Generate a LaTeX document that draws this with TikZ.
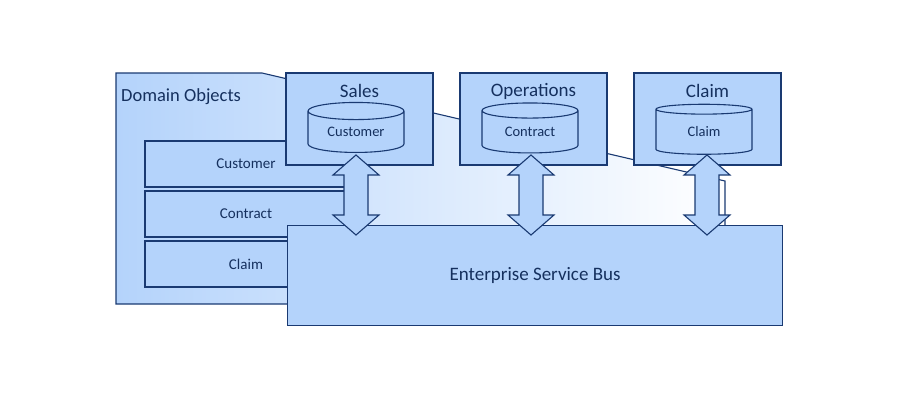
\documentclass[tikz,border=0pt]{standalone}
\usepackage{fontspec}
\setmainfont{Carlito}
\usetikzlibrary{shapes.geometric}
\definecolor{bfill}{HTML}{B4D3FB}
\definecolor{bline}{HTML}{1A3A72}
\definecolor{btext}{HTML}{15305E}
\tikzset{
  box/.style={draw=bline,fill=bfill,line width=1.1pt},
  lbl/.style={text=btext,inner sep=0pt},
  cyl/.style={cylinder,shape border rotate=90,aspect=0.3,draw=bline,fill=bfill,line width=1.1pt,minimum width=96pt,minimum height=50pt,text=btext,font=\fontsize{14.5}{14.5}\selectfont,inner sep=0pt},
}
\newcommand{\dblarr}[1]{%
  \draw[box,line join=miter] (#1,155) -- (#1+23,175) -- (#1+12,175) -- (#1+12,215) -- (#1+23,215) -- (#1,235) -- (#1-23,215) -- (#1-12,215) -- (#1-12,175) -- (#1-23,175) -- cycle;}
\begin{document}
\begin{tikzpicture}[x=1pt,y=-1pt]
\useasboundingbox (0,0) rectangle (900,400);
% domain objects shape
\draw[draw=bline,line width=1.1pt,left color=bfill,right color=white]
  (116,73) -- (262,73) -- (725,181) -- (725,304) -- (116,304) -- cycle;
\node[lbl,anchor=west,font=\fontsize{18.5}{18.5}\selectfont] (dom) at (121,97) {Domain Objects};
\draw[box] (145,141) rectangle (345,187);
\draw[box] (145,191) rectangle (345,237);
\draw[box] (145,241) rectangle (345,287);
\node[lbl,font=\fontsize{15}{15}\selectfont] (dcust) at (246,164) {Customer};
\node[lbl,font=\fontsize{15}{15}\selectfont] (dcont) at (246,214) {Contract};
\node[lbl,font=\fontsize{15}{15}\selectfont] (dclaim) at (246,264) {Claim};
% systems
\foreach \x/\n/\t/\c in {286/sales/Sales/Customer,460/ops/Operations/Contract,634/clm/Claim/Claim}{
  \draw[box] (\x,73) rectangle (\x+147,165);
  \node[lbl,font=\fontsize{19}{19}\selectfont] (\n) at (\x+73.5,91) {\t};
  \node[cyl] (\n db) at (\x+70,132) {\raisebox{-3pt}{\c}};
}
% ESB
\node[box,minimum width=495pt,minimum height=100pt,anchor=north west,text=btext,font=\fontsize{19}{19}\selectfont] (esb) at (287,225) {Enterprise Service Bus};
\dblarr{356}
\dblarr{531}
\dblarr{707}
\end{tikzpicture}
\end{document}
